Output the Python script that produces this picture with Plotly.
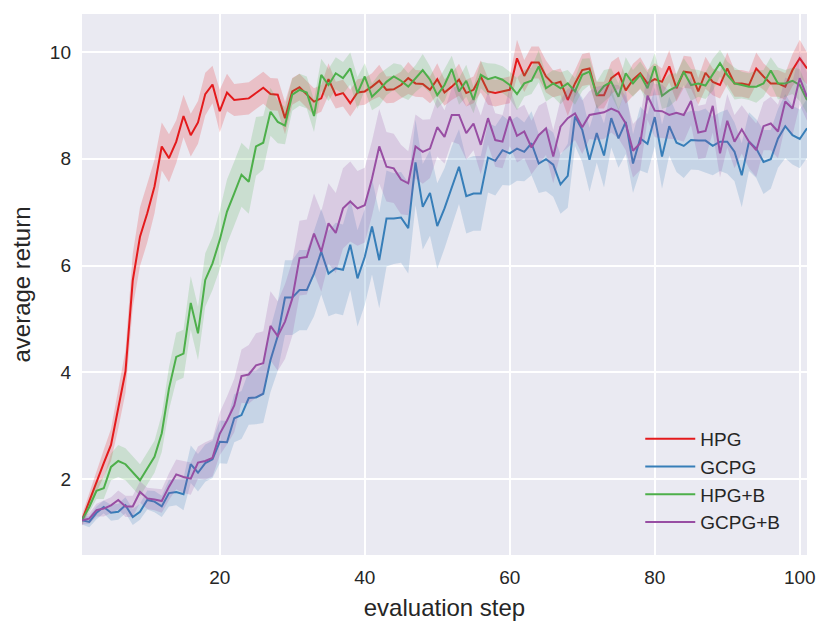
import plotly.graph_objects as go

# evaluation steps 1..101
steps = list(range(1, 102))

# mean curves
hpg = [1.23, 1.6, 1.95, 2.3, 2.64, 3.3, 4.02, 5.72, 6.54, 6.98,
       7.48, 8.23, 8.01, 8.32, 8.8, 8.44, 8.68, 9.21, 9.39, 8.89,
       9.24, 9.1, 9.12, 9.13, 9.23, 9.33, 9.21, 9.2, 8.76, 9.26,
       9.34, 9.21, 9.07, 9.13, 9.49, 9.19, 9.23, 9.04, 9.24, 9.26,
       9.35, 9.46, 9.29, 9.3, 9.38, 9.51, 9.41, 9.4, 9.29, 9.49,
       9.24, 9.35, 9.48, 9.23, 9.29, 9.54, 9.26, 9.23, 9.26, 9.29,
       9.88, 9.55, 9.8, 9.8, 9.54, 9.4, 9.44, 9.1, 9.41, 9.66,
       9.69, 9.19, 9.19, 9.51, 9.61, 9.28, 9.48, 9.6, 9.41, 9.49,
       9.44, 9.73, 9.32, 9.63, 9.61, 9.26, 9.61, 9.44, 9.38, 9.69,
       9.41, 9.41, 9.38, 9.69, 9.54, 9.41, 9.41, 9.35, 9.66, 9.88,
       9.69]

gcpg = [1.23, 1.2, 1.37, 1.48, 1.37, 1.39, 1.51, 1.29, 1.39, 1.61,
        1.58, 1.49, 1.74, 1.76, 1.72, 2.28, 2.12, 2.3, 2.37, 2.7,
        2.69, 3.14, 3.2, 3.52, 3.53, 3.6, 4.23, 4.68, 5.4, 5.4,
        5.54, 5.54, 5.85, 6.26, 5.85, 5.95, 5.92, 6.39, 5.76, 6.16,
        6.73, 6.1, 6.88, 6.88, 6.9, 6.7, 7.93, 7.1, 7.36, 6.74,
        7.07, 7.48, 7.85, 7.3, 7.35, 7.35, 8.02, 7.96, 8.16, 8.1,
        8.19, 8.13, 8.29, 7.91, 7.99, 7.89, 7.52, 7.68, 8.79, 8.54,
        7.98, 8.48, 8.06, 8.76, 8.38, 8.69, 7.91, 8.38, 8.28, 8.78,
        8.04, 8.61, 8.3, 8.24, 8.35, 8.34, 8.34, 8.24, 8.32, 8.32,
        8.13, 7.69, 8.32, 8.19, 7.94, 7.99, 8.38, 8.61, 8.44, 8.37,
        8.57]

hpg_b = [1.23, 1.48, 1.78, 1.83, 2.23, 2.34, 2.28, 2.14, 1.98, 2.2,
         2.42, 2.86, 3.7, 4.29, 4.35, 5.3, 4.73, 5.73, 6.04, 6.48,
         7.01, 7.35, 7.7, 7.57, 8.23, 8.3, 8.88, 8.69, 8.62, 9.2,
         9.29, 9.24, 8.8, 9.57, 9.38, 9.6, 9.51, 9.69, 9.23, 9.54,
         9.16, 9.29, 9.44, 9.54, 9.46, 9.35, 9.5, 9.66, 9.48, 9.19,
         9.38, 9.68, 9.26, 9.46, 9.1, 9.57, 9.49, 9.53, 9.48, 9.38,
         9.21, 9.41, 9.46, 9.73, 9.32, 9.41, 9.32, 9.41, 9.26, 9.57,
         9.63, 9.19, 9.36, 9.44, 9.16, 9.6, 9.41, 9.57, 9.32, 9.73,
         9.18, 9.28, 9.35, 9.63, 9.38, 9.41, 9.37, 9.57, 9.79, 9.57,
         9.41, 9.38, 9.35, 9.35, 9.41, 9.65, 9.41, 9.41, 9.46, 9.38,
         9.1]

gcpg_b = [1.23, 1.26, 1.42, 1.45, 1.51, 1.61, 1.49, 1.49, 1.76, 1.64,
          1.62, 1.59, 1.86, 2.09, 2.04, 2.01, 2.31, 2.34, 2.4, 2.85,
          3.1, 3.38, 3.93, 3.96, 4.13, 4.17, 4.87, 4.68, 4.95, 5.38,
          6.14, 6.16, 6.6, 6.26, 6.79, 6.61, 7.07, 7.2, 7.07, 7.13,
          7.63, 8.23, 7.85, 7.82, 7.61, 7.54, 8.23, 8.13, 8.19, 8.59,
          8.41, 8.82, 8.82, 8.48, 8.66, 8.26, 8.76, 8.35, 8.32, 8.79,
          8.43, 8.51, 8.21, 8.44, 8.57, 8.04, 8.6, 8.76, 8.85, 8.59,
          8.82, 8.85, 8.87, 8.94, 8.88, 8.66, 8.15, 8.29, 9.18, 8.9,
          8.89, 8.82, 8.86, 8.82, 9.08, 8.49, 8.52, 8.99, 8.1, 8.71,
          8.32, 8.55, 8.32, 8.16, 8.61, 8.66, 8.51, 9.07, 8.94, 9.51,
          9.16]

# half-width of the shaded bands
hpg_err = [0.1, 0.15, 0.2, 0.25, 0.3, 0.35, 0.4, 0.5, 0.55, 0.55,
           0.5, 0.45, 0.45, 0.4, 0.4, 0.4, 0.4, 0.4, 0.35, 0.4,
           0.35, 0.3, 0.3, 0.3, 0.3, 0.3, 0.3, 0.3, 0.3, 0.25,
           0.25, 0.25, 0.25, 0.25, 0.3, 0.25, 0.25, 0.25, 0.25, 0.25,
           0.25, 0.3, 0.25, 0.25, 0.25, 0.3, 0.25, 0.25, 0.25, 0.3,
           0.25, 0.25, 0.3, 0.25, 0.25, 0.3, 0.25, 0.25, 0.25, 0.25,
           0.35, 0.3, 0.3, 0.3, 0.3, 0.25, 0.25, 0.3, 0.25, 0.3,
           0.3, 0.25, 0.25, 0.3, 0.3, 0.25, 0.3, 0.3, 0.25, 0.3,
           0.25, 0.3, 0.25, 0.3, 0.3, 0.25, 0.3, 0.25, 0.25, 0.3,
           0.25, 0.25, 0.25, 0.3, 0.25, 0.25, 0.25, 0.25, 0.3, 0.35,
           0.3]

gcpg_err = [0.08, 0.1, 0.12, 0.12, 0.15, 0.15, 0.15, 0.15, 0.15, 0.18,
            0.2, 0.2, 0.25, 0.25, 0.3, 0.35, 0.35, 0.35, 0.35, 0.4,
            0.4, 0.45, 0.45, 0.5, 0.5, 0.55, 0.6, 0.65, 0.7, 0.7,
            0.75, 0.75, 0.8, 0.8, 0.8, 0.85, 0.85, 0.85, 0.9, 0.9,
            0.9, 0.9, 0.9, 0.85, 0.85, 0.85, 0.8, 0.8, 0.8, 0.8,
            0.75, 0.75, 0.7, 0.7, 0.7, 0.7, 0.65, 0.65, 0.65, 0.6,
            0.6, 0.55, 0.6, 0.55, 0.6, 0.6, 0.55, 0.6, 0.55, 0.6,
            0.6, 0.55, 0.6, 0.55, 0.55, 0.6, 0.55, 0.6, 0.55, 0.55,
            0.6, 0.55, 0.55, 0.6, 0.55, 0.55, 0.6, 0.55, 0.55, 0.6,
            0.55, 0.6, 0.55, 0.55, 0.6, 0.55, 0.55, 0.6, 0.55, 0.55,
            0.55]

hpg_b_err = [0.05, 0.1, 0.15, 0.2, 0.25, 0.3, 0.3, 0.3, 0.3, 0.3,
             0.3, 0.35, 0.4, 0.45, 0.45, 0.5, 0.5, 0.5, 0.5, 0.55,
             0.6, 0.6, 0.6, 0.6, 0.55, 0.5, 0.45, 0.4, 0.35, 0.3,
             0.3, 0.3, 0.3, 0.3, 0.3, 0.3, 0.3, 0.3, 0.3, 0.25,
             0.25, 0.3, 0.25, 0.25, 0.3, 0.25, 0.25, 0.3, 0.25, 0.25,
             0.3, 0.25, 0.25, 0.3, 0.25, 0.25, 0.3, 0.25, 0.25, 0.25,
             0.3, 0.25, 0.25, 0.3, 0.25, 0.25, 0.3, 0.25, 0.25, 0.3,
             0.25, 0.25, 0.3, 0.25, 0.25, 0.3, 0.25, 0.25, 0.3, 0.25,
             0.25, 0.3, 0.25, 0.25, 0.3, 0.25, 0.25, 0.3, 0.25, 0.25,
             0.3, 0.25, 0.25, 0.3, 0.25, 0.25, 0.3, 0.25, 0.25, 0.3,
             0.25]

gcpg_b_err = [0.08, 0.1, 0.12, 0.15, 0.15, 0.18, 0.2, 0.2, 0.2, 0.2,
              0.2, 0.22, 0.25, 0.28, 0.3, 0.3, 0.3, 0.35, 0.35, 0.4,
              0.45, 0.5, 0.5, 0.55, 0.6, 0.6, 0.65, 0.65, 0.7, 0.7,
              0.7, 0.7, 0.75, 0.75, 0.75, 0.75, 0.75, 0.75, 0.7, 0.7,
              0.7, 0.7, 0.65, 0.65, 0.65, 0.6, 0.6, 0.6, 0.55, 0.55,
              0.5, 0.5, 0.55, 0.5, 0.5, 0.55, 0.5, 0.5, 0.5, 0.55,
              0.5, 0.5, 0.5, 0.55, 0.5, 0.5, 0.5, 0.55, 0.5, 0.5,
              0.45, 0.5, 0.5, 0.45, 0.5, 0.5, 0.5, 0.5, 0.45, 0.5,
              0.5, 0.45, 0.5, 0.5, 0.45, 0.5, 0.5, 0.5, 0.45, 0.5,
              0.5, 0.45, 0.5, 0.5, 0.45, 0.5, 0.5, 0.45, 0.5, 0.5,
              0.45]

names = ["HPG", "GCPG", "HPG+B", "GCPG+B"]
colors = ["#e41a1c", "#377eb8", "#4daf4a", "#984ea3"]
bands = ["rgba(228,26,28,0.2)", "rgba(55,126,184,0.2)",
         "rgba(77,175,74,0.2)", "rgba(152,78,163,0.2)"]
means = [hpg, gcpg, hpg_b, gcpg_b]
errs = [hpg_err, gcpg_err, hpg_b_err, gcpg_b_err]

fig = go.Figure()
for name, col, band, m, e in zip(names, colors, bands, means, errs):
    lo = [a - b for a, b in zip(m, e)]
    hi = [a + b for a, b in zip(m, e)]
    fig.add_trace(go.Scatter(x=steps, y=lo, mode="lines", line=dict(width=0),
                             showlegend=False, hoverinfo="skip"))
    fig.add_trace(go.Scatter(x=steps, y=hi, mode="lines", line=dict(width=0),
                             fill="tonexty", fillcolor=band,
                             showlegend=False, hoverinfo="skip"))
    fig.add_trace(go.Scatter(x=steps, y=m, mode="lines", name=name,
                             line=dict(color=col, width=2)))

font = "Liberation Sans, Arial, sans-serif"
# the page body adds 8px on the left/top, so margins are trimmed for it
fig.update_layout(
    width=831, height=633,
    margin=dict(l=74, r=32, t=6, b=86),
    paper_bgcolor="white", plot_bgcolor="#eaeaf2",
    font=dict(family=font, color="#262626", size=19),
    legend=dict(x=0.77, y=0.2495, xanchor="left", yanchor="top",
                traceorder="normal", itemwidth=50,
                bgcolor="rgba(0,0,0,0)", font=dict(size=19),
                tracegroupgap=0),
    xaxis=dict(range=[1, 101], tickvals=[20, 40, 60, 80, 100],
               showgrid=True, gridcolor="white", gridwidth=1.6,
               zeroline=False, showline=False, ticks="",
               automargin=False, ticklabelstandoff=9,
               title=dict(text="evaluation step", font=dict(size=24),
                          standoff=12)),
    yaxis=dict(range=[0.58, 10.71], tickvals=[2, 4, 6, 8, 10],
               showgrid=True, gridcolor="white", gridwidth=1.6,
               zeroline=False, showline=False, ticks="",
               automargin=False, ticklabelstandoff=10,
               title=dict(text="average return", font=dict(size=24),
                          standoff=12)),
)

fig.write_html("out.html")
